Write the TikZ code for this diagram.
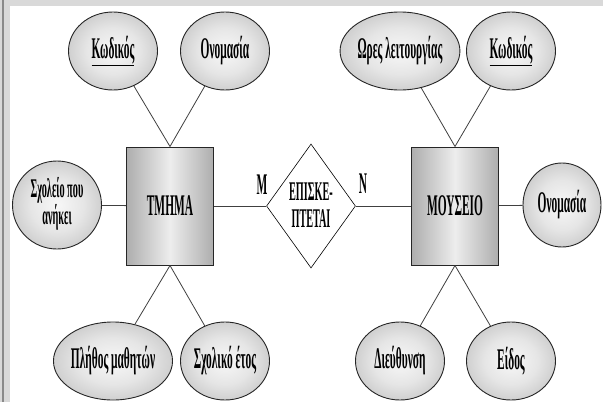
\documentclass[tikz,border=0pt]{standalone}
\usepackage{fontspec}
\setmainfont{Liberation Serif}
\usepackage{graphicx}
\usetikzlibrary{shapes.geometric}
\newcommand{\lbl}[1]{\scalebox{0.38}[1]{\fontsize{30}{32}\selectfont\bfseries #1}}
\newcommand{\lbltwo}[2]{\scalebox{0.38}[1]{\fontsize{27}{28}\selectfont\bfseries\begin{tabular}{@{}c@{}}#1\\[-1pt]#2\end{tabular}}}
\definecolor{frame}{HTML}{D9D9D9}
\definecolor{frameline}{HTML}{8A8A8A}
\pgfdeclareradialshading{attrshade}{\pgfpoint{0bp}{0bp}}{%
  color(0bp)=(white!97!black); color(15bp)=(white!90!black);
  color(50bp)=(white!60!black); color(70bp)=(white!60!black)}
\tikzset{
  attr/.style={ellipse, draw=black!85, line width=0.9pt, inner sep=0pt,
    minimum width=89pt, minimum height=78pt, shading=attrshade},
  entity/.style={rectangle, draw=black!85, line width=1pt, inner sep=0pt,
    minimum width=87pt, minimum height=118pt,
    left color=white!68!black, right color=white!68!black, middle color=white!93!black},
  rel/.style={diamond, draw=black, line width=0.6pt, fill=white, inner sep=0pt,
    minimum width=89pt, minimum height=124pt},
  conn/.style={draw=black!75, line width=0.8pt},
  card/.style={inner sep=0pt}
}
\begin{document}
\begin{tikzpicture}[x=1pt,y=-1pt]
\useasboundingbox (0,0) rectangle (603,402);
\fill[white] (0,0) rectangle (603,402);
\fill[frame] (0,0) rectangle (603,5.5);
\fill[frame] (0,0) rectangle (10,402);
\fill[frameline] (1.5,0) rectangle (3.5,402);
% TMHMA side
\node[entity] (t) at (170,206) {\lbl{ΤΜΗΜΑ}};
\node[attr] (k1) at (113,51) {\lbl{\underline{Κωδικός}}};
\node[attr] (o1) at (225,51) {\lbl{Ονομασία}};
\node[attr, minimum height=88pt] (s1) at (57,205) {\lbltwo{Σχολείο που}{ανήκει}};
\node[attr] (p1) at (113,361) {\lbl{Πλήθος μαθητών}};
\node[attr] (e1) at (225,361) {\lbl{Σχολικό έτος}};
% relationship
\node[rel] (d) at (311,206) {};
\node (dt) at (311,208) {\lbltwo{ΕΠΙΣΚΕ-}{ΠΤΕΤΑΙ}};
% MOUSEIO side
\node[entity] (m) at (455,206) {\lbl{ΜΟΥΣΕΙΟ}};
\node[attr] (w) at (400,51) {\lbl{Ωρες λειτουργίας}};
\node[attr] (k2) at (511,51) {\lbl{\underline{Κωδικός}}};
\node[attr, minimum width=78pt, minimum height=84pt] (o2) at (562,205) {\lbl{Ονομασία}};
\node[attr] (di) at (400,361) {\lbl{Διεύθυνση}};
\node[attr] (ei) at (511,361) {\lbl{Είδος}};
% cardinalities
\node[card] (cm) at (262,185) {\lbl{Μ}};
\node[card] (cn) at (363,184) {\lbl{Ν}};
% connectors
\draw[conn] (k1) -- (t.north);
\draw[conn] (o1) -- (t.north);
\draw[conn] (p1) -- (t.south);
\draw[conn] (e1) -- (t.south);
\draw[conn] (s1) -- (t);
\draw[conn] (t) -- (d);
\draw[conn] (d) -- (m);
\draw[conn] (w) -- (m.north);
\draw[conn] (k2) -- (m.north);
\draw[conn] (di) -- (m.south);
\draw[conn] (ei) -- (m.south);
\draw[conn] (m) -- (o2);
\end{tikzpicture}
\end{document}
